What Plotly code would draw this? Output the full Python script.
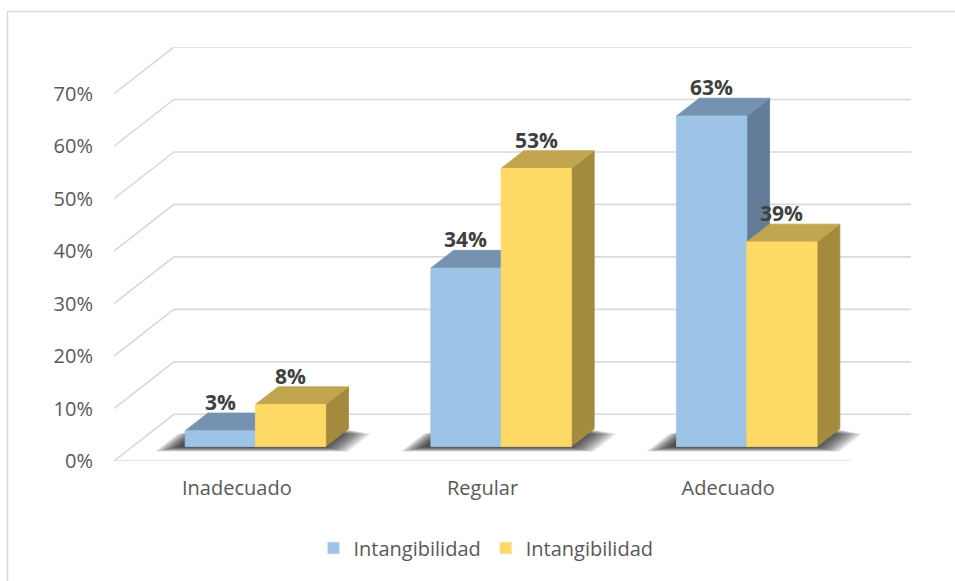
import plotly.graph_objects as go

# ---- data -------------------------------------------------------------
categories = ["Inadecuado", "Regular", "Adecuado"]
series_names = ["Intangibilidad", "Intangibilidad"]
serie_azul = [3, 34, 63]
serie_oro = [8, 53, 39]
y_ticks = [0, 10, 20, 30, 40, 50, 60, 70]

# ---- styling ------------------------------------------------------------
# face colours: (front, top, side)
BLUE = ("#9DC3E6", "#7593B0", "#637D98")
GOLD = ("#FFD966", "#C2A64F", "#A48A3F")
GRID = "#D9D9D9"
TICK_COLOR = "#595959"
LABEL_COLOR = "#404040"
FONT = "Open Sans"

# oblique projection used to fake the 3-D look
DEPTH_X = 0.244      # horizontal shift of the back wall (category units)
DEPTH_Y = 8.9        # vertical shift of the back wall (percent units)
D0, D1 = 0.31, 0.69  # bar depth span (0 = front edge of floor, 1 = back wall)
BAR_W = 0.286        # bar width (category units)
Y_MAX = y_ticks[-1]

# plot-area geometry in pixels
W, H = 955, 581
M_L, M_R, M_T, M_B = 114, 44, 47, 120
PX_X = (W - M_L - M_R) / (len(categories) + DEPTH_X)
PX_Y = (H - M_T - M_B) / (Y_MAX + DEPTH_Y)


def proj(x, v, d):
    """Project a point (category position, value, depth) onto the 2-D axes."""
    return x + DEPTH_X * d, v + DEPTH_Y * d


def poly(points):
    xs, ys = [], []
    for x, v, d in points:
        px, py = proj(x, v, d)
        xs.append(px)
        ys.append(py)
    xs.append(xs[0])
    ys.append(ys[0])
    return xs, ys


fig = go.Figure()

# ---- walls / gridlines ------------------------------------------------
gx, gy = [], []
n_cat = len(categories)
for v in y_ticks:
    for x, vv, d in [(0, v, 0), (0, v, 1), (n_cat, v, 1)]:
        px, py = proj(x, vv, d)
        gx.append(px)
        gy.append(py)
    gx.append(None)
    gy.append(None)
# front edge of the floor
for x in (0, n_cat):
    px, py = proj(x, 0, 0)
    gx.append(px)
    gy.append(py)
fig.add_trace(go.Scatter(x=gx, y=gy, mode="lines",
                         line=dict(color=GRID, width=1.6),
                         hoverinfo="skip", showlegend=False))

# ---- soft shadows under each pair of columns --------------------------
SHIFT = -4.0 / PX_X
for i in range(n_cat):
    c = i + 0.5 + SHIFT
    for k in range(10, 0, -1):
        ex = 2.6 * k / PX_X
        ey = 0.5 * k / PX_Y
        xs, ys = poly([(c - BAR_W - ex, -ey, D0), (c + BAR_W + ex, -ey, D0),
                       (c + BAR_W + ex, -ey, D1), (c - BAR_W - ex, -ey, D1)])
        fig.add_trace(go.Scatter(x=xs, y=ys, mode="lines", fill="toself",
                                 fillcolor="rgba(0,0,0,0.11)",
                                 line=dict(width=0), hoverinfo="skip",
                                 showlegend=False))

# ---- columns ------------------------------------------------------------
def add_column(xa, xb, v, colors):
    front, top, side = colors
    faces = [
        (side, [(xb, 0, D0), (xb, 0, D1), (xb, v, D1), (xb, v, D0)]),
        (top, [(xa, v, D0), (xb, v, D0), (xb, v, D1), (xa, v, D1)]),
        (front, [(xa, 0, D0), (xb, 0, D0), (xb, v, D0), (xa, v, D0)]),
    ]
    for col, pts in faces:
        xs, ys = poly(pts)
        fig.add_trace(go.Scatter(x=xs, y=ys, mode="lines", fill="toself",
                                 fillcolor=col, line=dict(color=col, width=0.8),
                                 hoverinfo="skip", showlegend=False))


annotations = []
for i in range(n_cat):
    c = i + 0.5
    for j, (vals, colors) in enumerate([(serie_azul, BLUE), (serie_oro, GOLD)]):
        xa = c - BAR_W + j * BAR_W
        xb = xa + BAR_W
        v = vals[i]
        add_column(xa, xb, v, colors)
        lx, _ = proj((xa + xb) / 2, v, D0)
        _, ly = proj(0, v, D1)
        annotations.append(dict(x=lx, y=ly, xref="x", yref="y",
                                text=f"{v}%", showarrow=False,
                                yanchor="bottom", yshift=-5,
                                font=dict(family=FONT, size=21,
                                          color=LABEL_COLOR, weight="bold")))

# legend entries
for name, colors in zip(series_names, (BLUE, GOLD)):
    fig.add_trace(go.Bar(x=[None], y=[None], name=name,
                         marker=dict(color=colors[0]), showlegend=True))

# outer chart border
shapes = [dict(type="rect", xref="paper", yref="paper",
               x0=(7.5 - M_L) / (W - M_L - M_R), x1=1.08,
               y0=-0.35, y1=(H - M_B - 11.5) / (H - M_T - M_B),
               line=dict(color=GRID, width=1.5), layer="below")]

fig.update_layout(
    width=W, height=H, autosize=False,
    margin=dict(l=M_L, r=M_R, t=M_T, b=M_B),
    paper_bgcolor="white", plot_bgcolor="white",
    font=dict(family=FONT, size=20, color=TICK_COLOR),
    xaxis=dict(range=[0, n_cat + DEPTH_X],
               tickvals=[i + 0.5 for i in range(n_cat)], ticktext=categories,
               showgrid=False, zeroline=False, showline=False, ticks="",
               ticklabelstandoff=13, fixedrange=True,
               tickfont=dict(family=FONT, size=20, color=TICK_COLOR)),
    yaxis=dict(range=[0, Y_MAX + DEPTH_Y], tickvals=y_ticks,
               ticktext=[f"{t}%" for t in y_ticks],
               showgrid=False, zeroline=False, showline=False, ticks="",
               ticklabelstandoff=20, fixedrange=True,
               tickfont=dict(family=FONT, size=20, color=TICK_COLOR)),
    legend=dict(orientation="h", x=(486 - M_L) / (W - M_L - M_R),
                xanchor="center", y=-(548 - (H - M_B)) / (H - M_T - M_B),
                yanchor="middle", font=dict(family=FONT, size=20,
                                            color=TICK_COLOR),
                itemwidth=30, tracegroupgap=0, bgcolor="rgba(0,0,0,0)"),
    annotations=annotations,
    shapes=shapes,
    showlegend=True,
)

fig.write_html("out.html", config={"displayModeBar": False})
